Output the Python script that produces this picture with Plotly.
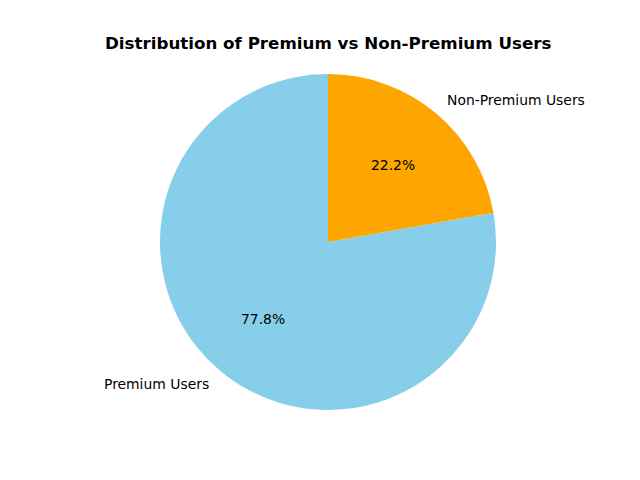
import math
import plotly.graph_objects as go

labels = ["Premium Users", "Non-Premium Users"]
values = [7, 2]
colors = ["#87CEEB", "#FFA500"]
title = "Distribution of Premium vs Non-Premium Users"

W, H = 640, 480
cx, cy, R = 328, 242, 168

total = sum(values)
# matplotlib-style: first slice starts at 12 o'clock going counterclockwise.
# Equivalent clockwise layout: first slice starts after the remaining slices' span.
rot = 360.0 * sum(values[1:]) / total

fig = go.Figure(go.Pie(
    labels=labels, values=values, sort=False, direction="clockwise",
    rotation=rot, marker=dict(colors=colors, line=dict(width=0)),
    textinfo="none", showlegend=False,
    domain=dict(x=[(cx - R) / W, (cx + R) / W], y=[(H - cy - R) / H, (H - cy + R) / H]),
))

start = 90.0
annotations = []
for lab, v in zip(labels, values):
    span = 360.0 * v / total
    mid = math.radians(start + span / 2)
    start += span
    c, s = math.cos(mid), math.sin(mid)
    lx = (cx + 1.1 * R * c) / W
    ly = (H - cy + 1.1 * R * s) / H
    annotations.append(dict(x=lx, y=ly, xref="paper", yref="paper", text=lab, showarrow=False,
                            xanchor="left" if c > 0 else "right", yanchor="middle",
                            xshift=-2 if c > 0 else 2,
                            font=dict(family="DejaVu Sans", size=13.9, color="black")))
    px = (cx + 0.6 * R * c) / W
    py = (H - cy + 0.6 * R * s) / H
    annotations.append(dict(x=px, y=py, xref="paper", yref="paper",
                            text=f"{100.0 * v / total:.1f}%", showarrow=False,
                            xanchor="center", yanchor="middle",
                            font=dict(family="DejaVu Sans", size=13.9, color="black")))

annotations.append(dict(x=328 / W, y=1 - 43 / H, xref="paper", yref="paper",
                        text=f"<b>{title}</b>", showarrow=False, xanchor="center", yanchor="middle",
                        font=dict(family="DejaVu Sans", size=16.7, color="black")))

fig.update_layout(width=W, height=H, margin=dict(l=0, r=0, t=0, b=0),
                  paper_bgcolor="white", plot_bgcolor="white", annotations=annotations)
fig.write_html("out.html")
